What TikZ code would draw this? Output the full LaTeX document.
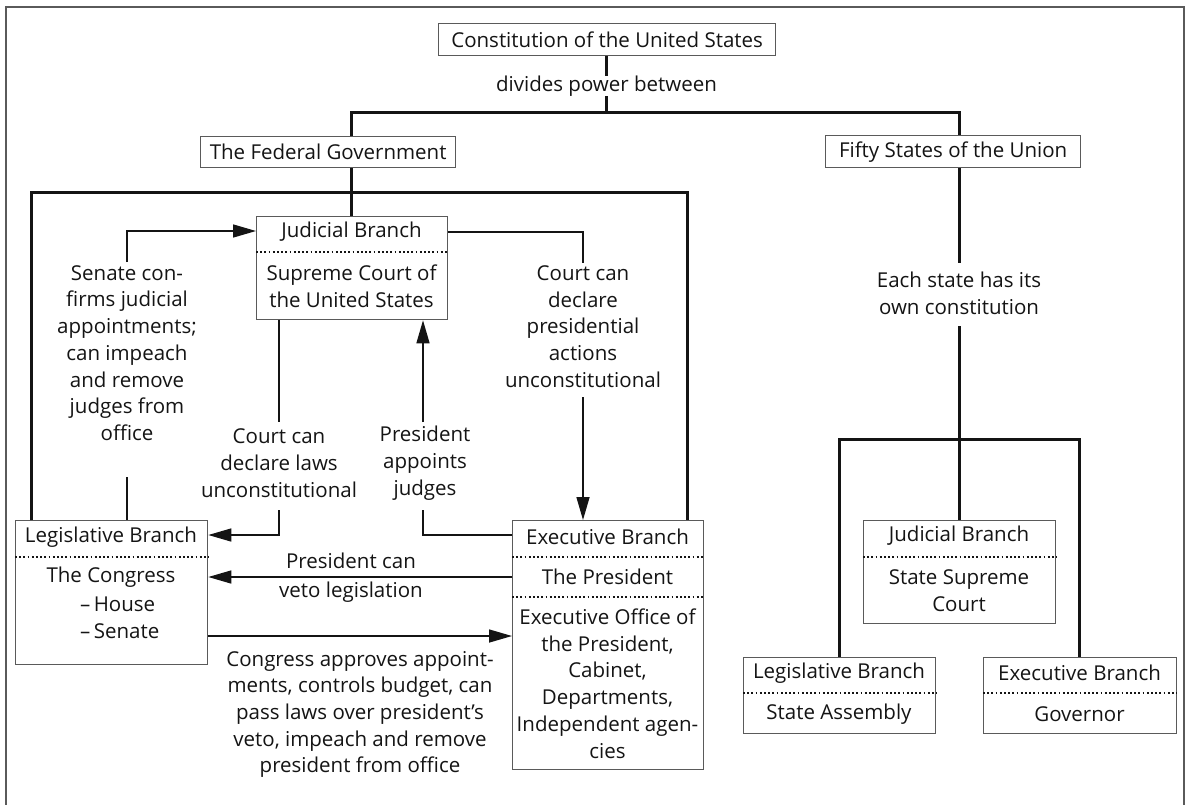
\documentclass[tikz,border=0pt]{standalone}
\usepackage{fontspec}
\setmainfont{Open Sans}
\usetikzlibrary{arrows.meta}
\definecolor{boxgray}{HTML}{5A5A5A}
\definecolor{ink}{HTML}{141414}
\newcommand\dgfont{\fontsize{20.5}{26.7}\selectfont}
\tikzset{
  box/.style={draw=boxgray, line width=1.3pt, inner sep=0pt, anchor=north west, font=\dgfont, text=ink},
  trunk/.style={line width=3pt, draw=ink, line join=miter},
  conn/.style={line width=1.5pt, draw=ink, line join=miter},
  arr/.style={conn, -{Triangle[length=23pt,width=13pt]}},
  sepline/.style={line width=1.8pt, draw=ink, dash pattern=on 1.8pt off 2.4pt},
  lbl/.style={align=center, inner sep=0pt, font=\dgfont, text=ink},
  frame/.style={line width=1.3pt, draw=boxgray}
}
\begin{document}
\begin{tikzpicture}[x=1pt,y=-1pt]
\useasboundingbox (0,0) rectangle (1188,804);
\draw[frame] (6,806) -- (6,7) -- (1184,7) -- (1184,806);

% top level boxes
\node[box, minimum width=337pt, minimum height=32pt] (const) at (438,23) {Constitution of the United States};
\node[lbl] (div) at (606.5,86) {divides power between};
\node[box, minimum width=255pt, minimum height=31pt] (fed) at (200,136) {The Federal Government};
\node[box, minimum width=255pt, minimum height=32pt] (fifty) at (825,135) {Fifty States of the Union};

% federal boxes
\node[box, minimum width=191pt, minimum height=103pt] (jb) at (256,216) {};
\node[box, minimum width=192pt, minimum height=144pt] (leg) at (15,520) {};
\node[box, minimum width=191pt, minimum height=249pt] (exec) at (512,520) {};

% state boxes
\node[box, minimum width=192pt, minimum height=103pt] (sjb) at (863,520) {};
\node[box, minimum width=192pt, minimum height=76pt] (slb) at (743,657) {};
\node[box, minimum width=193pt, minimum height=76pt] (seb) at (983,657) {};

% dotted separators
\draw[sepline] ([yshift=-36pt]jb.north west) -- ([yshift=-36pt]jb.north east);
\draw[sepline] ([yshift=-37pt]leg.north west) -- ([yshift=-37pt]leg.north east);
\draw[sepline] ([yshift=-37pt]exec.north west) -- ([yshift=-37pt]exec.north east);
\draw[sepline] ([yshift=-77pt]exec.north west) -- ([yshift=-77pt]exec.north east);
\draw[sepline] ([yshift=-37pt]sjb.north west) -- ([yshift=-37pt]sjb.north east);
\draw[sepline] ([yshift=-36pt]slb.north west) -- ([yshift=-36pt]slb.north east);
\draw[sepline] ([yshift=-36pt]seb.north west) -- ([yshift=-36pt]seb.north east);

% box texts
\node[lbl] (jbt1) at (351.5,232) {Judicial Branch};
\node[lbl] (jbt2) at (351.5,286.5) {Supreme Court of\\the United States};
\node[lbl] (legt1) at (111,537) {Legislative Branch};
\node[lbl] (legt2) at (111,577) {The Congress};
\node[lbl, align=left, anchor=west] (legt3) at (80,617.5) {–\,House\\–\,Senate};
\node[lbl] (ext1) at (607.5,537) {Executive Branch};
\node[lbl] (ext2) at (607.5,577) {The President};
\node[lbl] (ext3) at (607.5,683.5) {Executive Office of\\the President,\\Cabinet,\\Departments,\\Independent agen-\\cies};
\node[lbl] (sjt1) at (959,536) {Judicial Branch};
\node[lbl] (sjt2) at (959,590.5) {State Supreme\\Court};
\node[lbl] (slt1) at (839,673) {Legislative Branch};
\node[lbl] (slt2) at (839,714) {State Assembly};
\node[lbl] (set1) at (1079.5,673) {Executive Branch};
\node[lbl] (set2) at (1079.5,714) {Governor};

% labels
\node[lbl] (each) at (959,293.5) {Each state has its\\own constitution};
\node[lbl] (senate) at (127,353) {Senate con-\\firms judicial\\appointments;\\can impeach\\and remove\\judges from\\office};
\node[lbl] (laws) at (279,463) {Court can\\declare laws\\unconstitutional};
\node[lbl] (appoint) at (425,463) {President\\appoints\\judges};
\node[lbl] (presact) at (583,326.5) {Court can\\declare\\presidential\\actions\\unconstitutional};
\node[lbl] (veto1) at (351,561) {President can};
\node[lbl] (veto2) at (351,592) {veto legislation};
\node[lbl] (congress) at (360,714.5) {Congress approves appoint-\\ments, controls budget, can\\pass laws over president’s\\veto, impeach and remove\\president from office};

% coordinates
\coordinate (t0) at (606.5,112);
\coordinate (t1) at (351,112);
\coordinate (t2) at (959.5,112);
\coordinate (fl) at (31,192);
\coordinate (fm) at (351,192);
\coordinate (fr) at (687,192);
\coordinate (e1) at (959,263);
\coordinate (e2) at (959,326);
\coordinate (sl) at (839,439);
\coordinate (sr) at (1079,439);

% trunk lines
\draw[trunk] (const.south -| t0) -- (div.north -| t0);
\draw[trunk] (div.south -| t0) -- (t0);
\draw[trunk] (fed.north -| t1) -- (t1) -- (t2) -- (fifty.north -| t2);
\draw[trunk] (fed.south -| fm) -- (jb.north -| fm);
\draw[trunk] (leg.north -| fl) -- (fl) -- (fr) -- (exec.north -| fr);
\draw[trunk] (fifty.south -| e1) -- (e1);
\draw[trunk] (e2) -- (sjb.north -| e2);
\draw[trunk] (slb.north -| sl) -- (sl) -- (sr) -- (seb.north -| sr);

% checks and balances
\coordinate (sa) at (127,262);
\coordinate (sj) at (127,231);
\coordinate (sb) at (127,477);
\draw[arr] (sa) -- (sj) -- (sj -| jb.west);
\draw[conn] (sb) -- (sb |- leg.north);

\coordinate (cl1) at (279,422);
\coordinate (cl2) at (279,510);
\coordinate (cl3) at (279,535);
\draw[conn] (jb.south -| cl1) -- (cl1);
\draw[arr] (cl2) -- (cl3) -- (cl3 -| leg.east);

\coordinate (pa1) at (423,422);
\coordinate (pa2) at (423,510);
\coordinate (pa3) at (423,535);
\draw[arr] (pa1) -- (jb.south -| pa1);
\draw[conn] (exec.west |- pa3) -- (pa3) -- (pa2);

\coordinate (cp0) at (583,232);
\coordinate (cp1) at (583,263);
\coordinate (cp2) at (583,397);
\draw[conn] (jb.east |- cp0) -- (cp0) -- (cp1);
\draw[arr] (cp2) -- (exec.north -| cp2);

\coordinate (v) at (512,577);
\draw[arr] (exec.west |- v) -- (leg.east |- v);
\coordinate (cg) at (207,636);
\draw[arr] (leg.east |- cg) -- (exec.west |- cg);
\end{tikzpicture}
\end{document}
